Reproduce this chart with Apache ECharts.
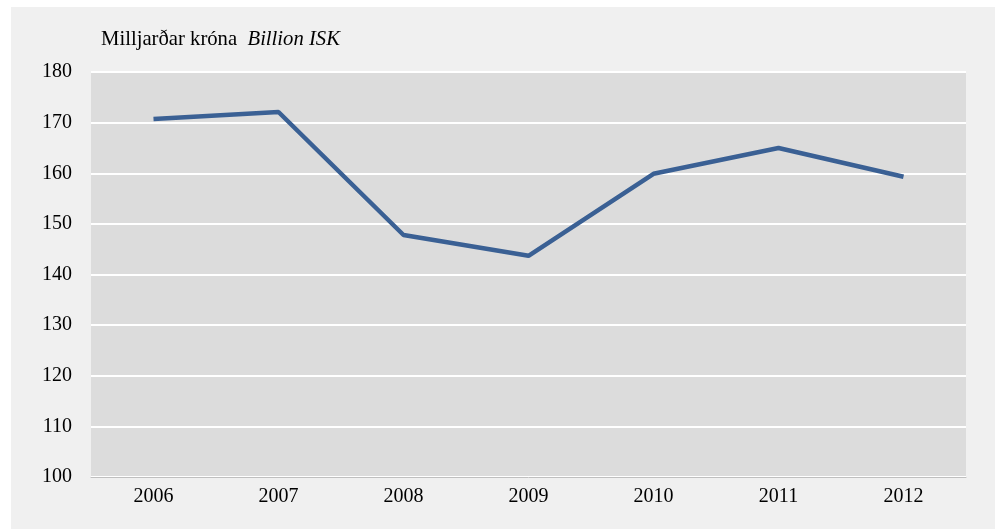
<!DOCTYPE html>
<html><head><meta charset="utf-8">
<script src="https://cdn.jsdelivr.net/npm/echarts@6/dist/echarts.min.js"></script>
<style>html,body{margin:0;padding:0;background:#fff}#c{width:1000px;height:529px}</style>
</head><body><div id="c"></div>
<script>
const years = ['2006','2007','2008','2009','2010','2011','2012'];
const values = [170.7, 172.1, 147.8, 143.7, 159.9, 165.0, 159.3];
const yTicks = {min: 100, max: 180, interval: 10};

const chart = echarts.init(document.getElementById('c'));
const font = 'Liberation Serif, Times New Roman, serif';
chart.setOption({
  backgroundColor: '#ffffff',
  animation: false,
  graphic: [{type:'rect', z:-10, shape:{x:11,y:7,width:984,height:522}, style:{fill:'#f0f0f0'}}],
  title: {
    left: 96, top: 24,
    text: '{a|Milljarðar króna  }{b|Billion ISK}',
    textStyle: {
      rich: {
        a: {fontFamily: font, fontSize: 20.7, fontWeight: 'normal', color: '#000'},
        b: {fontFamily: font, fontSize: 20.7, fontWeight: 'normal', fontStyle: 'italic', color: '#000'}
      }
    }
  },
  grid: {left: 91, right: 34, top: 72, bottom: 52, show: true, backgroundColor: '#dcdcdc', borderWidth: 0},
  xAxis: {
    type: 'category', data: years, boundaryGap: true,
    axisLine: {lineStyle: {color: '#bfbfbf', width: 1}},
    axisTick: {show: false},
    axisLabel: {fontFamily: font, fontSize: 20, color: '#000', margin: 10}
  },
  yAxis: {
    type: 'value', min: yTicks.min, max: yTicks.max, interval: yTicks.interval,
    axisLine: {show: false}, axisTick: {show: false},
    splitLine: {lineStyle: {color: '#ffffff', width: 2}},
    axisLabel: {fontFamily: font, fontSize: 20, color: '#000', margin: 19}
  },
  series: [{
    type: 'line', data: values, symbol: 'none',
    lineStyle: {color: '#3a6094', width: 4.5}
  }]
});
</script></body></html>
